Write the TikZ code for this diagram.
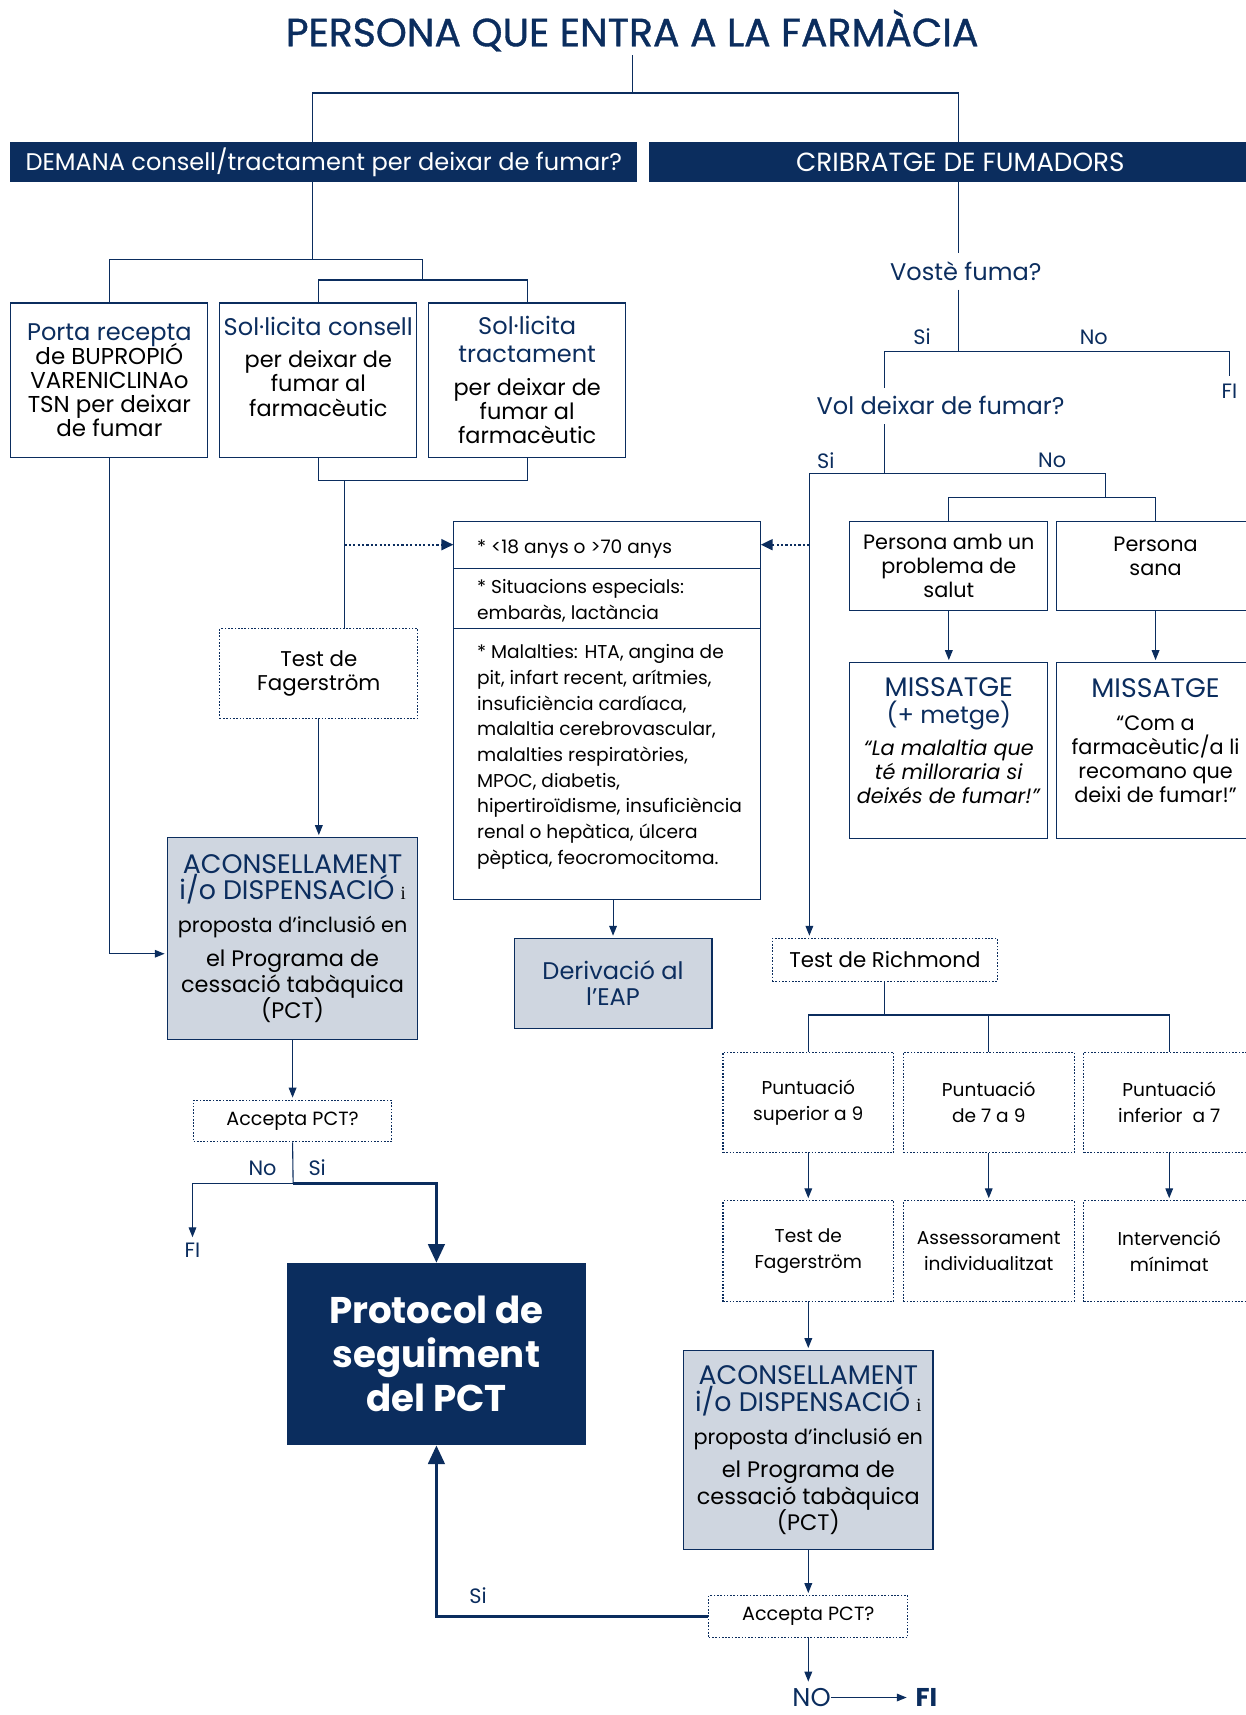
\documentclass[tikz,border=0pt]{standalone}
\usepackage{fontspec}
\setmainfont{Poppins}
\newfontfamily\serifi{Liberation Serif}
\usepackage{xcolor}
\usepackage{tikz}
\usetikzlibrary{arrows.meta, positioning, calc}

\definecolor{blaufosc}{HTML}{0B2D5E}
\definecolor{blauclar}{HTML}{CFD6E0}
\newcommand{\mida}[2]{\fontsize{#1}{#2}\selectfont}
\newcommand{\blau}[1]{{\color{blaufosc}#1}}

\begin{document}
\lineskiplimit=-\maxdimen
\begin{tikzpicture}[x=1pt, y=-1pt,
    linia/.style={draw=blaufosc, line width=1pt},
    fletxa/.style={linia, shorten >=2pt, -{Triangle[length=9pt,width=7pt]}},
    puntfletxa/.style={draw=blaufosc, line width=2pt, dash pattern=on 2pt off 2pt, -{Triangle[length=11pt,width=10pt]}},
    gruixut/.style={draw=blaufosc, line width=2.8pt, -{Triangle[length=17pt,width=15pt]}},
    caixa/.style={draw=blaufosc, line width=1pt, inner sep=0pt, align=center, font=\mida{20.5}{22}},
    caixapunt/.style={caixa, dash pattern=on 1.5pt off 1.5pt},
    caixaclara/.style={caixa, fill=blauclar},
    fosca/.style={caixa, fill=blaufosc, text=white},
    etiqueta/.style={text=blaufosc, inner sep=0pt, font=\mida{19}{22}},
    pregunta/.style={text=blaufosc, inner sep=8pt, font=\mida{22}{24}}]
    \clip (0,0) rectangle (1139,1568);

    % Títol i entrades
    \node[text=blaufosc, font=\mida{36}{38}\addfontfeatures{FakeBold=1}] (titol) at (578,28) {PERSONA QUE ENTRA A LA FARMÀCIA};
    \node[fosca, minimum width=572, minimum height=36, font=\mida{22}{24}] (demana) at (296,148) {DEMANA consell/tractament per deixar de fumar?};
    \node[fosca, minimum width=568, minimum height=36, font=\mida{24}{26}] (cribratge) at (878,148) {CRIBRATGE DE FUMADORS};

    % Demanda a la farmàcia
    \node[caixa, minimum width=180, minimum height=141, font=\mida{21}{22}] (porta) at (100,347.5)
        {\blau{\mida{22}{22}Porta recepta}\\ de BUPROPIÓ\\ VARENICLINAo\\ TSN per deixar\\ de fumar};
    \node[caixa, minimum width=180, minimum height=141, text depth=25pt] (consell) at (291,347.5)
        {\blau{\mida{22}{22}Sol·licita consell}\\[8pt] per deixar de\\ fumar al\\ farmacèutic};
    \node[caixa, minimum width=180, minimum height=141] (tractament) at (482,347.5)
        {\blau{\mida{22}{22}Sol·licita}\\[3pt] \blau{\mida{22}{22}tractament}\\[8pt] per deixar de\\ fumar al\\ farmacèutic};
    \node[caixapunt, minimum width=181, minimum height=82, font=\mida{19.5}{22}] (fager1) at (291.5,616) {Test de\\ Fagerström};
    \node[caixaclara, minimum width=229, minimum height=184, font=\mida{20.5}{24}] (acons1) at (267.5,858)
        {\blau{\mida{24.5}{24}ACONSELLAMENT}\\ \blau{\mida{24.5}{24}i/o DISPENSACIÓ} {\serifi\mida{17}{24}i}\\[6pt]
         {\mida{19}{24}proposta d’inclusió en}\\[7pt] el Programa de\\ cessació tabàquica\\ (PCT)};
    \node[caixapunt, minimum width=181, minimum height=38, font=\mida{17.5}{20}] (accepta1) at (267.5,1025) {Accepta PCT?};
    \node[etiqueta] (no1) at (240,1068) {No};
    \node[etiqueta] (si1) at (290,1068) {Si};
    \node[etiqueta] (fi1) at (176,1143) {FI};
    \node[fosca, minimum width=272, minimum height=166, font=\mida{34}{40}\bfseries] (protocol) at (399,1238)
        {Protocol de\\ seguiment\\ del PCT};

    % Contraindicacions
    \node[caixa, minimum width=280, minimum height=345] (cond) at (555,649.5) {};
    \draw[linia] ([yshift=-43pt]cond.north west) -- ([yshift=-43pt]cond.north east);
    \draw[linia] ([yshift=-98pt]cond.north west) -- ([yshift=-98pt]cond.north east);
    \node[anchor=west, inner sep=0pt, font=\mida{17}{23.5}] (edat) at (436,502) {* <18 anys o >70 anys};
    \node[anchor=west, align=left, inner sep=0pt, font=\mida{17}{23.5}] (especials) at (436,549.5)
        {* Situacions especials:\\ embaràs, lactància};
    \node[anchor=west, align=left, inner sep=0pt, font=\mida{17}{23.5}] (malalties) at (436,692)
        {* Malalties: HTA, angina de\\ pit, infart recent, arítmies,\\ insuficiència cardíaca,\\ malaltia cerebrovascular,\\
         malalties respiratòries,\\ MPOC, diabetis,\\ hipertiroïdisme, insuficiència\\ renal o hepàtica, úlcera\\ pèptica, feocromocitoma.};
    \node[caixaclara, minimum width=181, minimum height=82, font=\mida{22}{24}, text=blaufosc] (derivacio) at (560.5,899)
        {Derivació al\\ l’EAP};

    % Cribratge
    \node[pregunta] (vostefuma) at (883,248) {Vostè fuma?};
    \node[etiqueta] (si2) at (843,308) {Si};
    \node[etiqueta] (no2) at (1000,308) {No};
    \node[etiqueta] (fi2) at (1124,358) {FI};
    \node[pregunta] (voldeixar) at (860,371) {Vol deixar de fumar?};
    \node[etiqueta] (si3) at (755,421) {Si};
    \node[etiqueta] (no3) at (962,421) {No};
    \node[caixa, minimum width=181, minimum height=81, font=\mida{19}{22}] (malalt) at (867.5,517.5) {Persona amb un\\ problema de\\ salut};
    \node[caixa, minimum width=181, minimum height=81, font=\mida{19}{22}, text depth=17pt] (sa) at (1056.5,517.5) {Persona\\ sana};
    \node[caixa, minimum width=181, minimum height=161, font=\mida{19}{22}, text depth=19pt] (missatge1) at (867.5,686.5)
        {\blau{\mida{24.5}{24}MISSATGE}\\[3pt] \blau{\mida{22}{24}(+ metge)}\\[7pt] \textit{“La malaltia que}\\ \textit{té milloraria si}\\ \textit{deixés de fumar!”}};
    \node[caixa, minimum width=181, minimum height=161, font=\mida{19}{22}, text depth=19pt] (missatge2) at (1056.5,686.5)
        {\blau{\mida{24.5}{24}MISSATGE}\\[8pt] “Com a\\ farmacèutic/a li\\ recomano que\\ deixi de fumar!”};

    % Test de Richmond
    \node[caixapunt, minimum width=206, minimum height=39, font=\mida{19.5}{22}] (richmond) at (809,877.5) {Test de Richmond};
    \node[caixapunt, minimum width=156, minimum height=92, font=\mida{17}{24}] (punt1) at (739,1008) {Puntuació\\ superior a 9};
    \node[caixapunt, minimum width=156, minimum height=92, font=\mida{17}{24}] (punt2) at (904,1008) {Puntuació\\ de 7 a 9};
    \node[caixapunt, minimum width=156, minimum height=92, font=\mida{17}{24}] (punt3) at (1069,1008) {Puntuació\\ inferior\ \ a 7};
    \node[caixapunt, minimum width=156, minimum height=92, font=\mida{17}{24}] (res1) at (739,1144) {Test de\\ Fagerström};
    \node[caixapunt, minimum width=156, minimum height=92, font=\mida{17}{24}] (res2) at (904,1144) {Assessorament\\ individualitzat};
    \node[caixapunt, minimum width=156, minimum height=92, font=\mida{17}{24}] (res3) at (1069,1144) {Intervenció\\ mínimat};
    \node[caixaclara, minimum width=228, minimum height=182, font=\mida{20.5}{24}] (acons2) at (739,1326)
        {\blau{\mida{24.5}{24}ACONSELLAMENT}\\ \blau{\mida{24.5}{24}i/o DISPENSACIÓ} {\serifi\mida{17}{24}i}\\[6pt]
         {\mida{19}{24}proposta d’inclusió en}\\[7pt] el Programa de\\ cessació tabàquica\\ (PCT)};
    \node[caixapunt, minimum width=182, minimum height=38, font=\mida{17.5}{20}] (accepta2) at (739,1478) {Accepta PCT?};
    \node[etiqueta] (si4) at (437,1459) {Si};
    \node[etiqueta, font=\mida{23.5}{24}] (no) at (742,1552) {NO};
    \node[etiqueta, font=\mida{23.5}{24}\bfseries] (fi3) at (847,1552) {FI};

    % Connexions de dalt
    \coordinate (bifA) at (286,85);
    \coordinate (bifB) at (876,85);
    \draw[linia] (titol.south) -- (titol.south |- bifA);
    \draw[linia] (demana.north -| bifA) -- (bifA) -- (bifB) -- (cribratge.north -| bifB);

    % Branca de la demanda
    \coordinate (bifC) at (286,237);
    \coordinate (bifD) at (386,256);
    \coordinate (bifE) at (315,439);
    \coordinate (nivell) at (0,498);
    \draw[linia] (demana.south -| bifC) -- (bifC);
    \draw[linia] (porta.north) |- (bifD |- bifC) -- (bifD);
    \draw[linia] (consell.north) |- (bifD) -| (tractament.north);
    \draw[linia] (consell.south) |- (bifE) -| (tractament.south);
    \draw[linia] (bifE) -- (bifE |- fager1.north);
    \draw[puntfletxa] (bifE |- nivell) -- (cond.west |- nivell);
    \draw[fletxa] (fager1.south) -- (fager1.south |- acons1.north);
    \draw[fletxa] (porta.south) |- ([yshift=-14pt]acons1.west);
    \draw[fletxa] (acons1.south) -- (accepta1.north);
    \coordinate (bifF) at (268,1082);
    \draw[linia] (accepta1.south) -- (bifF);
    \draw[fletxa, shorten >=5pt] (bifF) -| (fi1.north);
    \draw[gruixut] (bifF) -| (protocol.north);
    \draw[fletxa] (cond.south -| derivacio.north) -- (derivacio.north);

    % Branca del cribratge
    \coordinate (bifG) at (876,321);
    \coordinate (bifH) at (809,321);
    \coordinate (bifI) at (809,433);
    \coordinate (bifJ) at (740,433);
    \coordinate (bifK) at (1011,433);
    \coordinate (bifL) at (1011,455);
    \draw[linia] (cribratge.south -| bifB) -- (vostefuma.north -| bifB);
    \draw[linia] (vostefuma.south -| bifG) -- (bifG);
    \draw[linia] (voldeixar.north -| bifH) |- (bifG) -| ([yshift=7pt]fi2.north);
    \draw[linia] (voldeixar.south -| bifI) -- (bifI);
    \draw[linia] (bifJ) -- (bifK) -- (bifL);
    \draw[linia] (malalt.north) |- (bifL) -| (sa.north);
    \draw[fletxa] (malalt.south) -- (missatge1.north);
    \draw[fletxa] (sa.south) -- (missatge2.north);
    \draw[puntfletxa] (bifJ |- nivell) -- (cond.east |- nivell);
    \draw[fletxa] (bifJ) -- (bifJ |- richmond.north);

    % Richmond i resultats
    \coordinate (bifM) at (809,928);
    \draw[linia] (richmond.south) -- (bifM);
    \draw[linia] (punt1.north) |- (bifM) -| (punt3.north);
    \draw[linia] (punt2.north) -- (punt2.north |- bifM);
    \foreach \i in {1,2,3}
        \draw[fletxa] (punt\i.south) -- (res\i.north);
    \draw[fletxa] (res1.south) -- (acons2.north);
    \draw[fletxa] (acons2.south) -- (accepta2.north);
    \draw[gruixut] (accepta2.west) -| (protocol.south);
    \draw[fletxa, shorten >=6pt] (accepta2.south) -- (accepta2.south |- no.north);
    \draw[fletxa, shorten >=8pt] (no.east) -- (fi3.west);
\end{tikzpicture}
\end{document}
